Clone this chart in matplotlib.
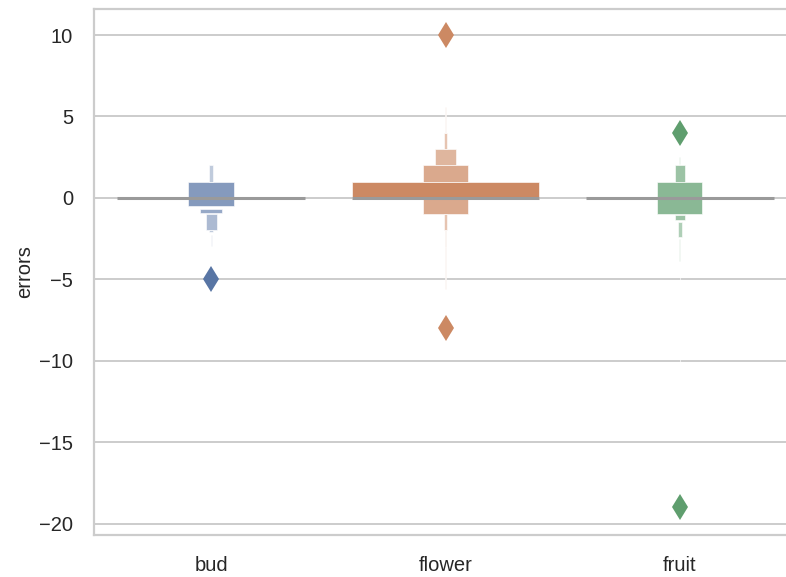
import numpy as np
import matplotlib
matplotlib.use("Agg")
import matplotlib.pyplot as plt
from matplotlib.patches import Rectangle
from matplotlib.colors import to_rgb

plt.rcParams['font.family'] = ['Liberation Sans', 'DejaVu Sans']

categories = ["bud", "flower", "fruit"]
base_colors = ["#5875A4", "#CC8963", "#5F9E6E"]

# letter-value boxes per category: lower edge, upper edge, relative width, depth level
bud_lo = [-0.5, -0.9, -2.0, 1.0, -2.1, -2.95]
bud_hi = [1.0, -0.67, -1.0, 2.0, -2.0, -2.25]
bud_w = [0.242, 0.114, 0.057, 0.021, 0.021, 0.007]
bud_lvl = [1, 2, 3, 4, 4, 5]

flower_lo = [0.0, 1.0, -1.0, 2.0, 3.0, -2.0, -3.0, 4.0, -5.6]
flower_hi = [1.0, 2.0, 0.0, 3.0, 4.0, -1.0, -2.0, 5.6, -3.0]
flower_w = [1.0, 0.241, 0.241, 0.116, 0.02, 0.02, 0.006, 0.003, 0.003]
flower_lvl = [0, 1, 1, 2, 3, 3, 4, 5, 5]

fruit_lo = [-1.0, 1.0, -1.35, -2.4, 2.1, -3.9, -10.6]
fruit_hi = [1.0, 2.0, -1.04, -1.45, 2.5, -2.5, -4.0]
fruit_w = [0.241, 0.053, 0.053, 0.023, 0.006, 0.006, 0.003]
fruit_lvl = [1, 2, 2, 3, 4, 4, 5]

medians = [0.0, 0.0, 0.0]
bud_out = [-5]
flower_out = [10, -8]
fruit_out = [4, -19]

boxes = [(bud_lo, bud_hi, bud_w, bud_lvl),
         (flower_lo, flower_hi, flower_w, flower_lvl),
         (fruit_lo, fruit_hi, fruit_w, fruit_lvl)]
outliers = [bud_out, flower_out, fruit_out]

fig = plt.figure(figsize=(7.86, 5.77), dpi=100)
ax = fig.add_axes([94/786, 42/577, 703/786, 526/577])

full_width = 0.8
level_tint = [0.0, 0.27, 0.38, 0.5, 0.62, 0.72]

def tint(c, f):
    c = np.array(to_rgb(c))
    return tuple(c + (1 - c) * f)

for i, (lo, hi, w, lvl) in enumerate(boxes):
    col = base_colors[i]
    for l, h, ww, lv in zip(lo, hi, w, lvl):
        bw = ww * full_width
        ax.add_patch(Rectangle((i - bw / 2, l), bw, h - l,
                               facecolor=tint(col, level_tint[lv]),
                               edgecolor=(1, 1, 1, 0.7),
                               linewidth=0.6, zorder=2))
    ax.plot([i - full_width / 2, i + full_width / 2], [medians[i], medians[i]],
            color="#9a9a9a", linewidth=2.2, zorder=3,
            solid_capstyle="butt")
    ax.plot(np.full(len(outliers[i]), i), outliers[i], linestyle="none",
            marker="d", markersize=13, color=col, markeredgewidth=0, zorder=4)

ax.set_xlim(-0.5, 2.5)
ax.set_ylim(-20.7, 11.6)
ax.set_xticks(range(len(categories)))
ax.set_xticklabels(categories)
ax.set_yticks([-20, -15, -10, -5, 0, 5, 10])
ax.set_yticklabels(["\u221220", "\u221215", "\u221210", "\u22125", "0", "5", "10"])
ax.set_ylabel("errors", fontsize=14.5, color="#262626", labelpad=3.5)

ax.set_axisbelow(True)
ax.yaxis.grid(True, color="#cccccc", linewidth=1.4)
ax.xaxis.grid(False)
for s in ax.spines.values():
    s.set_color("#cccccc")
    s.set_linewidth(1.6)
ax.tick_params(axis="y", length=0, labelsize=14.5, labelcolor="#262626", pad=15)
ax.tick_params(axis="x", length=0, labelsize=14.5, labelcolor="#262626", pad=15)

fig.savefig("out.png", dpi=100)
